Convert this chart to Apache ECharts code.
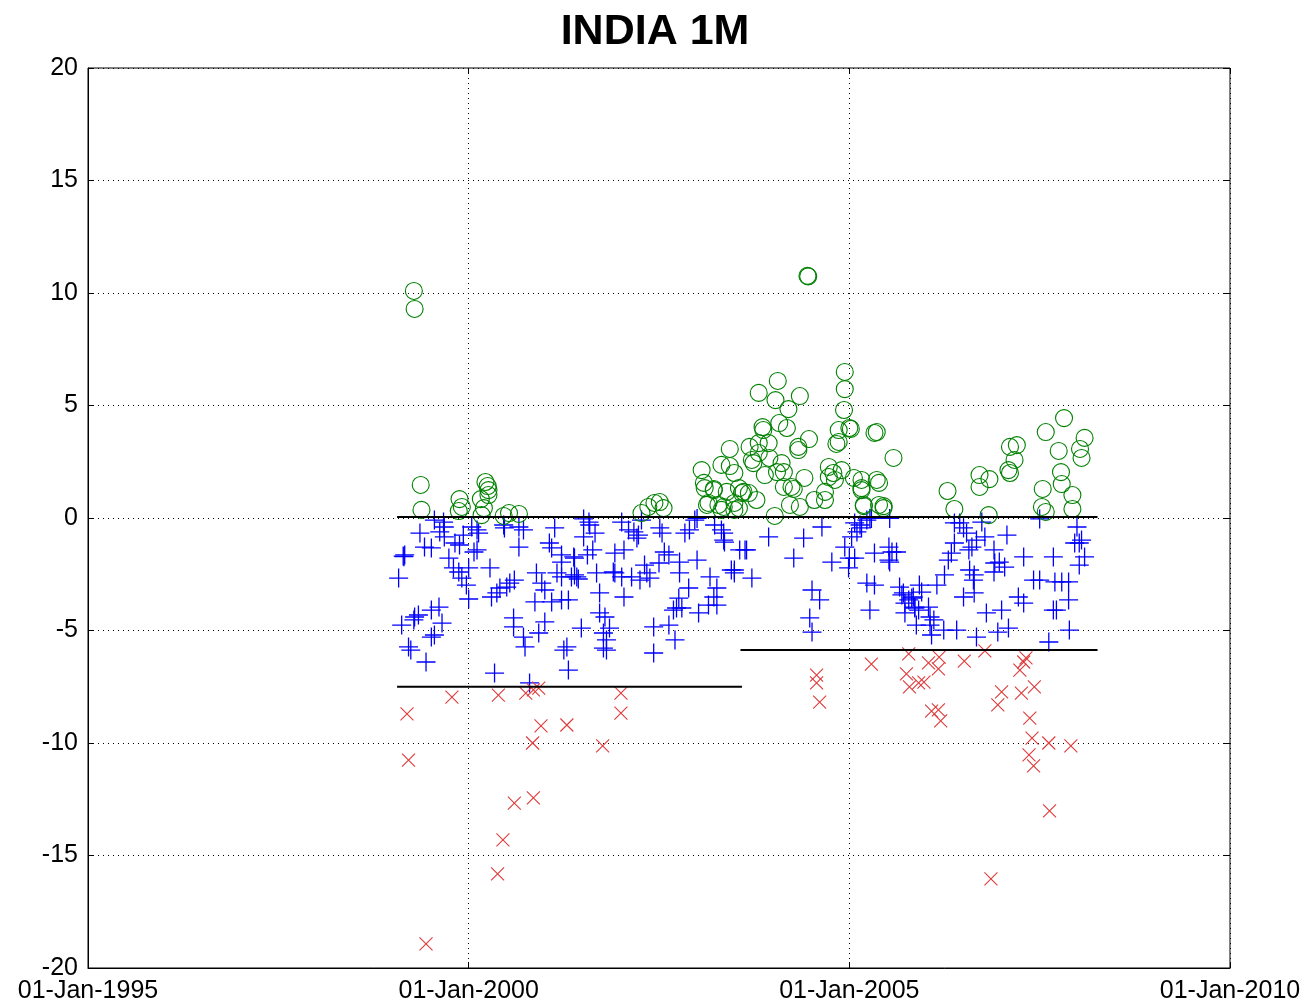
<!DOCTYPE html>
<html>
<head>
<meta charset="utf-8">
<script src="https://cdn.jsdelivr.net/npm/echarts@6/dist/echarts.min.js"></script>
<style>
html,body{margin:0;padding:0;background:#fff;}
#chart{width:1310px;height:1005px;}
</style>
</head>
<body>
<div id="chart"></div>
<script>
// ---- data (x = decimal year, y = value) ----
const titleText = 'INDIA 1M';
const xTickYears = [1995, 2000, 2005, 2010];
const yTicks = [-20, -15, -10, -5, 0, 5, 10, 15, 20];

const greenCircles = [
[1999.28,10.09],[1999.29,9.29],[1999.37,1.47],[1999.38,0.36],[1999.88,0.84],[1999.91,0.49],[1999.87,0.31],
[2000.16,0.84],[2000.20,0.44],[2000.17,0.13],[2000.22,1.6],[2000.25,1.42],[2000.26,1.24],[2000.26,1.02],
[2000.46,0.09],[2000.66,0.18],[2000.53,0.22],
[2002.27,0.22],[2002.36,0.49],[2002.44,0.67],[2002.51,0.71],[2002.56,0.44],
[2003.06,2.13],[2003.09,1.56],[2003.10,1.33],[2003.22,1.24],[2003.32,2.36],[2003.49,2.0],[2003.59,1.11],
[2003.68,1.11],[2003.49,0.67],[2003.15,0.67],[2003.35,0.49],[2003.55,0.44],
[2004.45,10.76],[2004.46,10.74],[2004.94,6.49],[2004.94,5.73],[2004.93,4.80],[2005.00,4.00],[2004.86,3.91],[2004.86,3.38],
[2004.83,3.29],[2005.33,3.78],[2004.06,6.09],[2003.81,5.56],[2004.03,5.24],[2004.35,5.42],[2004.20,4.84],
[2003.86,4.04],[2003.87,3.91],[2004.08,4.22],[2004.18,4.0],[2004.47,3.51],[2004.33,3.16],[2004.33,3.02],
[2003.43,3.07],[2003.94,3.33],[2003.81,3.33],[2003.69,3.16],[2003.81,2.89],[2003.74,2.44],[2003.72,2.58],
[2003.95,2.67],[2004.11,2.44],[2004.14,2.04],[2004.05,2.04],[2003.89,1.91],[2003.43,2.31],[2003.22,1.29],
[2003.39,1.16],[2003.55,1.33],[2003.61,1.16],[2003.78,0.80],[2003.13,0.58],[2003.28,0.58],[2003.32,0.36],
[2003.49,0.36],[2004.02,0.09],[2004.22,0.58],[2004.35,0.49],[2004.14,1.38],[2004.27,1.29],[2004.24,1.38],
[2004.41,1.78],[2004.54,0.8],[2004.68,0.8],[2004.68,1.16],[2004.73,1.82],[2004.79,2.0],[2004.81,1.69],
[2004.73,2.27],[2005.06,1.78],[2005.16,1.24],[2005.16,1.69],[2005.36,1.69],[2005.19,0.58],[2005.39,0.58],
[2005.02,3.96],[2005.36,3.82],[2005.58,2.67],[2004.90,2.13],[2005.16,1.33],[2005.39,1.56],[2005.19,0.53],
[2005.45,0.53],[2005.45,0.44],[2006.29,1.2],[2006.38,0.4],[2006.71,1.91],[2006.71,1.38],[2006.84,1.73],
[2006.83,0.13],[2007.11,3.16],[2007.20,3.24],[2007.17,2.58],[2007.09,2.13],[2007.11,2.0],[2007.58,3.82],
[2007.82,4.44],[2007.75,2.98],[2008.09,3.56],[2008.03,3.07],[2008.05,2.67],[2007.78,2.04],[2007.79,1.51],
[2007.93,1.02],[2007.54,1.29],[2007.53,0.49],[2007.58,0.27],[2007.93,0.4]
];

const bluePluses = [
[1999.14,-1.69],[1999.16,-1.64],[1999.15,-1.72],[1999.08,-2.67],[1999.36,-0.67],[1999.42,-1.29],[1999.51,-1.33],
[1999.55,-0.09],[1999.67,-0.18],[1999.68,-0.4],[1999.62,-0.62],[1999.68,-0.84],[1999.82,-1.11],[1999.88,-1.2],
[1999.93,-0.76],[2000.04,-0.4],[2000.11,-0.53],[2000.13,-0.67],[1999.74,-1.78],[1999.80,-2.22],[1999.87,-2.4],
[1999.91,-2.67],[2000.00,-2.22],[1999.97,-2.98],[2000.07,-1.51],[2000.11,-1.42],[2000.00,-3.6],[2000.28,-2.22],
[2000.30,-3.51],[2000.37,-3.33],[2000.41,-3.11],[2000.50,-3.07],[2000.54,-2.89],[2000.60,-2.76],[2000.66,-1.29],
[2000.46,-0.31],[2000.47,-0.44],[2000.66,-0.4],[2000.72,-0.53],[2001.13,-0.44],[2001.06,-1.11],[2001.09,-1.33],
[2001.22,-1.64],[2001.38,-1.73],[2001.39,-2.53],[2001.16,-2.44],[2001.22,-2.62],[2000.89,-2.44],[2000.96,-2.89],
[2001.00,-3.2],[2001.09,-3.73],[2001.22,-3.64],[2000.87,-3.73],[2000.59,-4.44],[2000.59,-4.84],[2000.72,-5.29],
[2000.74,-5.73],[2000.92,-5.11],[2001.00,-4.62],[2001.29,-5.73],[2001.31,-6.76],[2001.25,-5.87],[2000.34,-6.89],
[2000.80,-7.33],[1999.12,-4.76],[1999.28,-4.53],[1999.29,-4.4],[1999.34,-4.31],[1999.51,-4.09],[1999.61,-3.96],
[1999.65,-4.67],[1999.51,-5.29],[1999.55,-5.2],[1999.21,-5.73],[1999.24,-5.87],[1999.44,-6.4],[2001.48,-4.89],
[2001.81,-5.87],
[2001.51,-0.04],[2001.59,-0.31],[2001.51,-0.84],[2001.66,-0.67],[2001.39,-1.78],[2001.56,-1.64],[2001.63,-1.42],
[2001.22,-1.96],[2001.42,-2.62],[2001.35,-2.62],[2001.44,-2.71],[2001.31,-3.64],[2001.68,-2.44],[2001.72,-3.33],
[2001.72,-4.22],[2001.79,-4.4],[2001.85,-4.89],[2001.77,-5.11],[2001.81,-5.42],[2001.77,-5.78],[2002.10,-0.53],
[2002.17,-0.62],[2002.23,-0.76],[2002.21,-0.89],[2002.04,-1.42],[2001.92,-1.56],[2001.90,-2.4],[2001.92,-2.44],
[2002.01,-2.62],[2002.04,-3.51],[2002.14,-2.62],[2002.25,-2.76],[2002.31,-2.09],[2002.34,-2.44],[2002.38,-2.67],
[2002.50,-2.0],[2002.57,-1.51],[2002.63,-1.64],[2002.51,-0.44],[2002.54,-0.67],[2002.77,-1.96],[2002.77,-2.44],
[2003.00,-1.87],[2002.89,-3.11],[2002.76,-3.56],[2002.69,-4.09],[2002.73,-4.0],[2002.80,-4.0],[2003.02,-4.22],
[2002.43,-4.84],[2002.63,-4.76],[2002.71,-5.42],[2002.43,-6.0],[2002.84,-0.67],[2002.90,-0.53],[2002.97,-0.09],
[2003.32,-0.53],[2003.35,-0.98],[2003.63,-1.42],[2003.49,-2.31],[2003.72,-2.67],[2003.17,-2.62],[2003.26,-3.11],
[2003.22,-3.51],[2003.26,-3.87],[2003.15,-3.87],[2002.01,-0.18],[2002.27,-0.09],[2001.58,-0.18],[2003.00,-0.02],
[2003.23,-0.31],
[2003.35,-0.67],[2003.36,-1.07],[2003.56,-1.42],[2003.65,-1.42],[2003.45,-2.31],[2003.49,-2.44],[2003.94,-0.84],
[2004.27,-1.78],[2004.40,-0.89],[2004.64,-0.4],[2004.51,-3.2],[2004.61,-3.64],[2004.48,-4.44],[2004.51,-5.07],
[2004.77,-1.96],[2004.94,-1.29],[2005.00,-1.78],[2004.99,-2.22],[2005.07,-1.78],[2005.10,-0.62],[2005.14,-0.31],
[2005.23,-0.09],[2005.29,-0.02],[2005.53,-0.02],[2005.33,-1.56],[2005.52,-1.29],[2005.56,-1.51],[2005.62,-1.51],
[2005.52,-1.87],[2005.23,-2.89],[2005.33,-2.98],[2005.27,-4.09],[2005.66,-3.07],[2005.71,-3.33],[2005.78,-3.64],
[2005.82,-3.56],[2005.86,-3.96],[2005.91,-4.09],[2005.73,-4.22],[2005.88,-4.76],
[2005.07,-0.22],[2005.16,-0.44],[2005.27,-0.01],[2005.03,-0.84],[2005.53,-1.96],[2005.69,-3.42],[2005.84,-3.51],
[2005.73,-3.78],[2005.92,-2.98],[2005.95,-3.29],[2006.15,-2.98],[2005.86,-4.0],[2006.04,-3.96],[2006.06,-4.4],
[2006.06,-4.76],[2006.11,-4.53],[2006.08,-5.2],[2006.24,-4.98],[2006.41,-4.98],[2006.25,-2.53],[2006.38,-1.11],
[2006.34,-1.56],[2006.30,-1.87],[2006.38,-0.22],[2006.45,-0.22],[2006.50,-0.44],[2006.54,-0.67],[2006.57,-1.42],
[2006.61,-1.29],[2006.67,-0.98],[2006.78,-0.84],[2006.58,-2.31],[2006.64,-2.53],[2006.63,-2.76],[2006.64,-3.33],
[2006.50,-3.51],[2006.74,-0.18],[2006.90,-1.42],[2006.91,-2.0],[2006.97,-1.96],[2007.04,-2.18],[2006.90,-2.4],
[2007.07,-0.76],[2007.29,-1.73],[2006.80,-4.22],[2007.00,-4.09],[2006.67,-5.29],[2006.95,-5.07],[2007.09,-4.89],
[2007.22,-3.51],[2007.29,-3.78],[2007.42,-2.76],[2007.50,-2.76],[2007.68,-1.73],[2007.70,-2.84],[2007.79,-2.84],
[2007.88,-2.84],[2007.68,-4.09],[2007.72,-4.09],[2007.88,-3.64],[2007.89,-4.98],[2007.62,-5.51],[2007.99,-0.4],
[2008.02,-1.11],[2008.09,-1.73],[2008.02,-2.09],[2007.50,-0.04],[2007.96,-1.11],[2008.05,-0.98]
];

const redCrosses = [
[1999.19,-8.71],[1999.78,-7.96],[1999.21,-10.76],[1999.44,-18.93],[2000.39,-7.87],[2000.75,-7.78],[2000.85,-7.64],
[2000.92,-7.56],[2000.95,-9.24],[2001.29,-9.2],[2000.84,-10.0],[2001.76,-10.13],[2000.60,-12.67],[2000.85,-12.44],
[2000.45,-14.31],[2000.38,-15.82],[2002.00,-7.78],[2002.00,-8.67],[2004.57,-6.98],[2004.57,-7.33],[2004.61,-8.18],
[2005.29,-6.49],[2005.78,-6.04],[2005.75,-6.93],[2005.79,-7.51],[2005.91,-7.33],[2005.98,-7.29],[2006.04,-6.44],
[2006.18,-6.18],[2006.17,-6.71],[2006.08,-8.58],[2006.17,-8.53],[2006.20,-9.02],[2006.51,-6.36],[2006.78,-5.91],
[2007.00,-7.73],[2006.95,-8.31],[2007.24,-6.76],[2007.29,-6.4],[2007.32,-6.22],[2007.26,-7.78],[2007.43,-7.51],
[2007.37,-8.89],[2007.40,-9.78],[2007.62,-10.0],[2007.91,-10.13],[2007.36,-10.53],[2007.42,-11.02],[2007.63,-13.02],
[2006.86,-16.04]
];

const zeroLine = [[1999.06, 0.05], [2008.26, 0.05]];
const thresholdLeft = [[1999.06, -7.5], [2003.59, -7.5]];
const thresholdRight = [[2003.57, -5.87], [2008.26, -5.87]];

// ---- chart ----
const FONT = "'Liberation Sans', Arial, sans-serif";
const chart = echarts.init(document.getElementById('chart'), null, {renderer: 'canvas'});

const lineSeries = (data) => ({
  type: 'line', data: data, symbol: 'none', silent: true, z: 5,
  lineStyle: {color: '#000', width: 2}, animation: false
});

const hiddenAxisCommon = {
  type: 'value', axisLabel: {show: false}, splitLine: {show: false},
  axisLine: {show: false, onZero: false}, axisTick: {show: true, inside: true, length: 6, lineStyle: {color: '#000'}}
};

chart.setOption({
  animation: false,
  backgroundColor: '#fff',
  title: {
    text: titleText, left: 'center', top: 6,
    textStyle: {fontFamily: FONT, fontSize: 43, fontWeight: 'bold', color: '#000'}
  },
  grid: {left: 88, right: 80, top: 68, bottom: 37, show: true, borderColor: '#000', borderWidth: 1, backgroundColor: '#fff'},
  xAxis: [{
    type: 'value', min: 1995, max: 2010, interval: 5,
    axisLine: {show: true, onZero: false, lineStyle: {color: '#000', width: 1}},
    axisTick: {show: true, inside: true, length: 6, lineStyle: {color: '#000'}},
    axisLabel: {
      fontFamily: FONT, fontSize: 25, color: '#000', margin: 11,
      formatter: v => xTickYears.includes(v) ? '01-Jan-' + v : ''
    },
    splitLine: {show: true, lineStyle: {color: '#000', type: [1, 4], width: 1}}
  }, Object.assign({position: 'top', min: 1995, max: 2010, interval: 5}, hiddenAxisCommon)],
  yAxis: [{
    type: 'value', min: -20, max: 20, interval: 5,
    axisLine: {show: true, onZero: false, lineStyle: {color: '#000', width: 1}},
    axisTick: {show: true, inside: true, length: 6, lineStyle: {color: '#000'}},
    axisLabel: {
      fontFamily: FONT, fontSize: 25, color: '#000', margin: 10,
      formatter: v => yTicks.includes(v) ? String(v) : ''
    },
    splitLine: {show: true, lineStyle: {color: '#000', type: [1, 4], width: 1}}
  }, Object.assign({position: 'right', min: -20, max: 20, interval: 5}, hiddenAxisCommon)],
  series: [
    {
      type: 'scatter', data: bluePluses, symbol: 'path://M0 5H10M5 0V10', symbolSize: 19,
      itemStyle: {color: 'rgba(0,0,0,0)', borderColor: '#0000ff', borderWidth: 1.3, opacity: 1}, z: 2
    },
    {
      type: 'scatter', data: greenCircles, symbol: 'circle', symbolSize: 17,
      itemStyle: {color: 'rgba(0,0,0,0)', borderColor: '#008000', borderWidth: 1.1, opacity: 1}, z: 3
    },
    {
      type: 'scatter', data: redCrosses, symbol: 'path://M0 0L10 10M10 0L0 10', symbolSize: 13,
      itemStyle: {color: 'rgba(0,0,0,0)', borderColor: '#e03a3a', borderWidth: 1.1, opacity: 1}, z: 3
    },
    lineSeries(zeroLine),
    lineSeries(thresholdLeft),
    lineSeries(thresholdRight)
  ]
});
</script>
</body>
</html>
